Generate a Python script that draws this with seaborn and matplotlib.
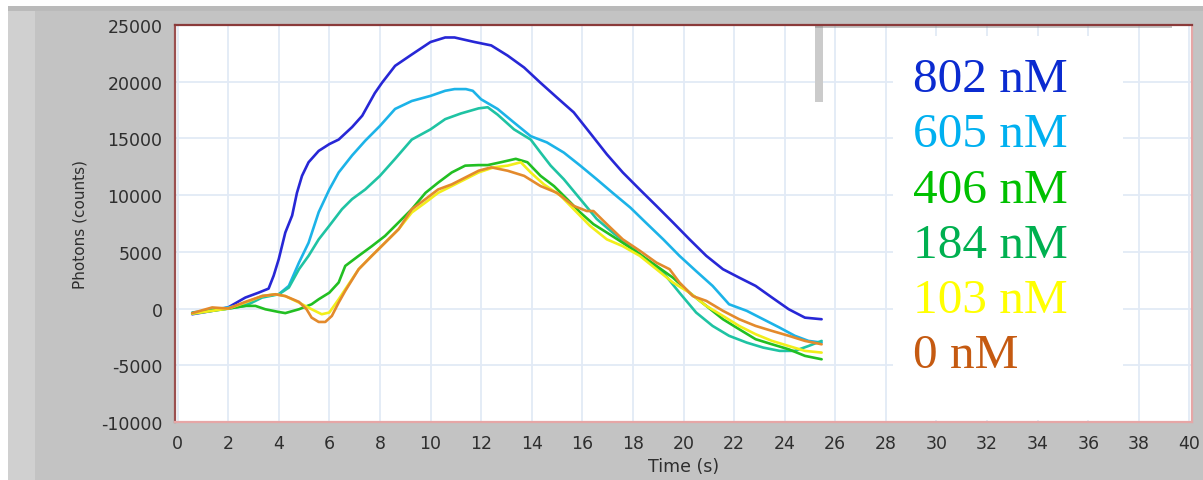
import matplotlib
matplotlib.use("Agg")
import matplotlib.pyplot as plt
from matplotlib.patches import Rectangle
import numpy as np
import pandas as pd
import seaborn as sns

# ---- measured photon traces (time in s, photons in counts) ----
t_802 = [0.58, 1.37, 2.0, 2.68, 3.2, 3.6, 3.8, 4.0, 4.26, 4.53, 4.72, 4.92, 5.18, 5.58, 6.0,
         6.37, 6.9, 7.3, 7.8, 8.08, 8.6, 9.26, 10.0, 10.58, 10.95, 11.74, 12.4, 13.05, 13.7,
         14.35, 15.0, 15.66, 16.3, 16.97, 17.6, 18.27, 18.93, 19.58, 20.24, 20.9, 21.56,
         22.2, 22.85, 23.5, 24.16, 24.8, 25.46]
y_802 = [-500, -200, 100, 970, 1400, 1760, 2900, 4350, 6700, 8200, 10200, 11700, 12900, 13900,
         14500, 14900, 16000, 17000, 19000, 19900, 21400, 22400, 23500, 23900, 23900, 23500,
         23200, 22300, 21250, 19900, 18600, 17300, 15500, 13600, 12000, 10500, 9050, 7600,
         6100, 4650, 3470, 2730, 2000, 970, -60, -800, -940]

t_605 = [0.58, 2.0, 2.68, 3.34, 4.0, 4.4, 4.8, 5.18, 5.58, 6.0, 6.37, 6.9, 7.42, 8.0, 8.6,
         9.26, 10.0, 10.58, 10.95, 11.4, 11.67, 12.0, 12.65, 13.3, 13.96, 14.6, 15.27, 15.92,
         16.57, 17.2, 17.9, 18.5, 19.2, 19.84, 20.5, 21.15, 21.8, 22.5, 23.15, 23.8, 24.4,
         24.94, 25.46]
y_605 = [-350, 100, 380, 1100, 1260, 2000, 4050, 5800, 8500, 10500, 12000, 13500, 14800,
         16100, 17600, 18300, 18750, 19200, 19350, 19350, 19200, 18450, 17600, 16400, 15200,
         14650, 13750, 12600, 11400, 10200, 8900, 7600, 6100, 4650, 3300, 2000, 380, -200,
         -940, -1680, -2400, -2850, -3000]

t_184 = [0.58, 2.0, 2.68, 3.34, 4.0, 4.4, 4.8, 5.18, 5.58, 6.0, 6.5, 6.9, 7.42, 8.0, 8.6,
         9.26, 10.0, 10.58, 11.2, 11.9, 12.26, 12.65, 13.3, 13.96, 14.35, 14.75, 15.27, 15.92,
         16.57, 17.2, 17.9, 18.5, 19.2, 19.84, 20.5, 21.15, 21.8, 22.5, 23.15, 23.8, 24.4,
         24.94, 25.46]
y_184 = [-450, 0, 235, 970, 1260, 1850, 3470, 4650, 6100, 7300, 8760, 9650, 10500, 11700,
         13200, 14900, 15800, 16700, 17200, 17650, 17750, 17100, 15800, 14900, 13750, 12600,
         11400, 9650, 7900, 6700, 5500, 4350, 3170, 1400, -350, -1530, -2400, -3000, -3440,
         -3730, -3730, -3300, -2850]

t_406 = [0.58, 2.0, 2.68, 3.08, 3.47, 4.0, 4.26, 4.8, 5.3, 5.58, 6.0, 6.37, 6.63, 7.16, 7.68,
         8.2, 8.74, 9.26, 9.8, 10.3, 10.84, 11.37, 11.9, 12.26, 12.78, 13.37, 13.83, 14.35,
         14.88, 15.4, 15.92, 16.44, 16.97, 17.6, 18.27, 18.93, 19.58, 20.24, 20.9, 21.56,
         22.2, 22.85, 23.5, 24.16, 24.8, 25.46]
y_406 = [-400, 0, 235, 235, -60, -300, -400, -60, 380, 820, 1400, 2300, 3760, 4650, 5500,
         6400, 7600, 8760, 10200, 11100, 12000, 12600, 12650, 12650, 12900, 13200, 12900,
         11700, 10800, 9650, 8470, 7440, 6700, 5800, 4800, 3760, 2730, 1400, 235, -940,
         -1820, -2700, -3150, -3590, -4170, -4470]

t_103 = [0.58, 2.0, 2.68, 3.34, 3.87, 4.26, 4.8, 5.3, 5.7, 6.0, 6.37, 6.63, 7.16, 7.68, 8.2,
         8.74, 9.26, 9.8, 10.3, 10.84, 11.37, 11.9, 12.5, 13.05, 13.57, 13.96, 14.48, 15.14,
         15.66, 16.3, 16.97, 17.6, 18.27, 18.93, 19.58, 20.24, 20.9, 21.56, 22.2, 22.85,
         23.5, 24.16, 24.8, 25.46]
y_103 = [-450, 0, 530, 1100, 1260, 1100, 530, -60, -500, -350, 820, 1700, 3470, 4650, 5800,
         7000, 8470, 9350, 10200, 10800, 11400, 12000, 12450, 12600, 12900, 12000, 10950,
         9950, 8760, 7300, 6100, 5500, 4650, 3470, 2300, 1400, 235, -650, -1530, -2260,
         -2850, -3300, -3730, -3880]

t_0 = [0.58, 1.37, 2.0, 2.68, 3.34, 3.87, 4.26, 4.8, 5.1, 5.3, 5.58, 5.84, 6.1, 6.37, 6.63,
       7.16, 7.68, 8.2, 8.74, 9.26, 9.8, 10.3, 10.84, 11.37, 11.9, 12.4, 13.05, 13.7, 14.35,
       15.0, 15.66, 16.18, 16.44, 16.97, 17.6, 18.27, 18.93, 19.45, 19.84, 20.37, 20.9,
       21.56, 22.2, 22.85, 23.5, 24.16, 24.8, 25.46]
y_0 = [-400, 100, 0, 590, 1100, 1260, 1100, 590, -60, -800, -1180, -1180, -650, 530, 1560,
       3470, 4650, 5800, 7000, 8760, 9650, 10500, 10950, 11550, 12150, 12450, 12150, 11700,
       10800, 10200, 9050, 8600, 8600, 7440, 6100, 5100, 4050, 3470, 2300, 1100, 680, -200,
       -940, -1530, -1970, -2400, -2850, -3150]

series_names = ["802 nM", "605 nM", "406 nM", "184 nM", "103 nM", "0 nM"]
line_colors = ["#2727d6", "#1cb3e8", "#22bf22", "#1fc3a3", "#f2ee1a", "#e38a2c"]
label_colors = ["#0b2bd0", "#00b0f0", "#00c000", "#00b050", "#ffff00", "#c55a11"]

frames = []
for name, t, y in [("802 nM", t_802, y_802), ("605 nM", t_605, y_605),
                   ("184 nM", t_184, y_184), ("406 nM", t_406, y_406),
                   ("103 nM", t_103, y_103), ("0 nM", t_0, y_0)]:
    frames.append(pd.DataFrame({"Time (s)": t, "Photons (counts)": y, "conc": name}))
df = pd.concat(frames, ignore_index=True)

sns.set_style("white")
plt.rcParams["font.family"] = ["DejaVu Sans"]
plt.rcParams["axes.unicode_minus"] = False

W, H = 1203, 481
fig = plt.figure(figsize=(W / 100, H / 100), dpi=100, facecolor="#c3c3c3")

# window chrome around the graph
fig.patches.append(Rectangle((0, 1 - 7 / H), 1, 7 / H, transform=fig.transFigure,
                             facecolor="white", edgecolor="none", zorder=0))
fig.patches.append(Rectangle((0, 1 - 12 / H), 1, 5 / H, transform=fig.transFigure,
                             facecolor="#bababa", edgecolor="none", zorder=0))
fig.patches.append(Rectangle((0, 0), 8 / W, 1, transform=fig.transFigure,
                             facecolor="white", edgecolor="none", zorder=0))
fig.patches.append(Rectangle((8 / W, 0), 27 / W, 1 - 12 / H, transform=fig.transFigure,
                             facecolor="#d0d0d0", edgecolor="none", zorder=0))

L, R, T, B = 175, 1192, 26, 423
ax = fig.add_axes([L / W, 1 - B / H, (R - L) / W, (B - T) / H])
ax.set_facecolor("white")

palette = dict(zip(series_names, line_colors))
sns.lineplot(data=df, x="Time (s)", y="Photons (counts)", hue="conc",
             palette=palette, hue_order=["802 nM", "605 nM", "184 nM", "406 nM", "103 nM", "0 nM"],
             sort=False, estimator=None, linewidth=1.9, legend=False, ax=ax)

ax.set_xlim(-0.1, 40.1)
ax.set_ylim(-10000, 25000)
ax.set_xticks(np.arange(0, 41, 2))
ax.set_yticks(np.arange(-10000, 25001, 5000))
ax.grid(True, color="#e2eaf6", linewidth=1.3)
ax.set_axisbelow(True)

for side, col in [("left", "#9a5050"), ("top", "#8a3a3a"),
                  ("right", "#e6a6a6"), ("bottom", "#e6a6a6")]:
    ax.spines[side].set_visible(True)
    ax.spines[side].set_color(col)
    ax.spines[side].set_linewidth(1.6)

ax.tick_params(axis="both", direction="out", length=6, width=1.4, color="#404040",
               labelcolor="#2e2e2e", labelsize=12.5, pad=3)
ax.set_xlabel("Time (s)", fontsize=12.5, color="#2e2e2e", labelpad=3)
ax.set_ylabel("Photons (counts)", fontsize=11, color="#2e2e2e", labelpad=10)

# label panel with concentration key
ax.add_patch(Rectangle((893 / W, 1 - 421 / H), (1123 - 893) / W, (421 - 37) / H,
                       transform=fig.transFigure, facecolor="white", edgecolor="none",
                       zorder=1.5))
baselines = [92, 147, 203, 258, 313, 368]
for name, col, yb in zip(series_names, label_colors, baselines):
    fig.text(913 / W, 1 - yb / H, name, color=col, fontsize=35.5,
             family="Liberation Serif", ha="left", va="baseline")

# grey slider handle at the top of the plot
ax.add_patch(Rectangle((815 / W, 1 - 103 / H), 8 / W, (103 - 27) / H,
                       transform=fig.transFigure, facecolor="#cbcbcb", edgecolor="none",
                       zorder=1.6))
ax.add_patch(Rectangle((815 / W, 1 - 29 / H), (1172 - 815) / W, 3 / H,
                       transform=fig.transFigure, facecolor="#8f8f8f", edgecolor="none",
                       zorder=1.6, alpha=0.5))

fig.savefig("out.png", dpi=100, facecolor=fig.get_facecolor())
